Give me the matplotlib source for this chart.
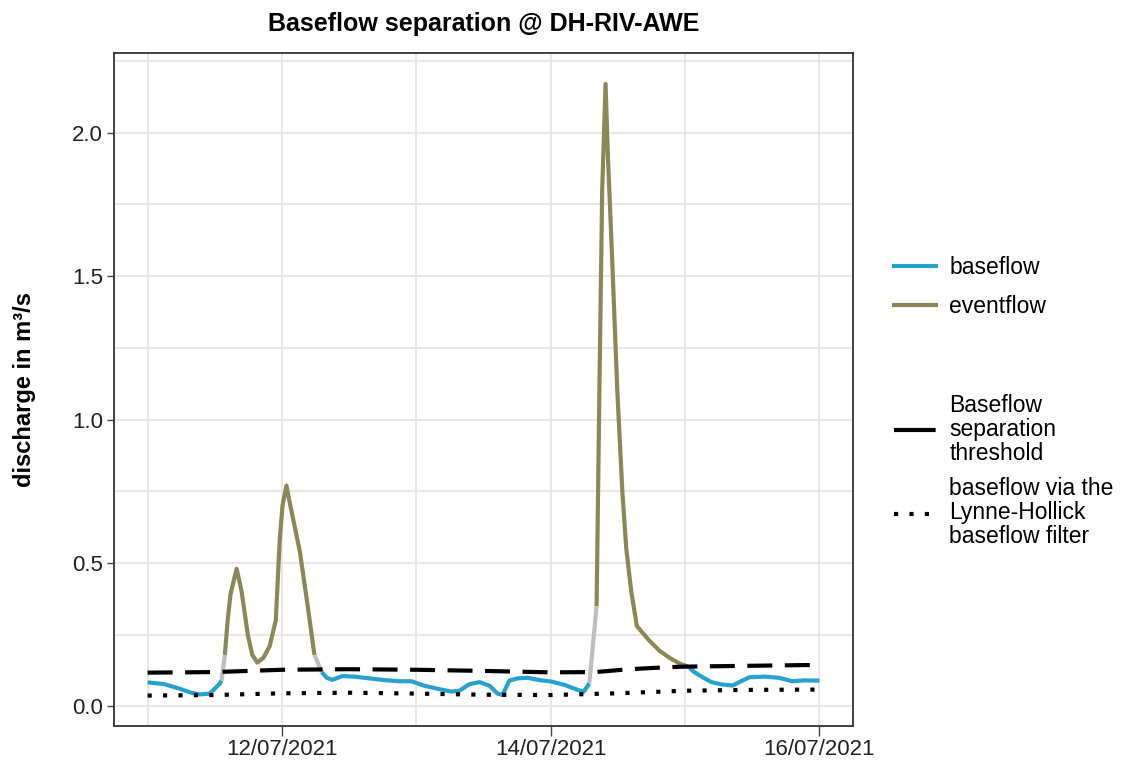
import numpy as np
import pandas as pd
import matplotlib
matplotlib.use("Agg")
from matplotlib import pyplot as plt
import matplotlib.dates as mdates
from matplotlib.lines import Line2D

# discharge series (hours after 11/07/2021 00:00), b = baseflow, e = eventflow
hours = [0, 3, 5.7, 7.8, 9.3, 11.1, 12.9, 13.2,
         13.8, 14.3, 14.8, 15.9, 16.8, 17.9, 18.7, 19.6, 20.7, 21.8, 22.9, 23.6,
         24.1, 24.8, 25.5, 27.2, 28.6, 29.8,
         31.1, 32.0, 33.0, 34.8, 37.0, 39.6, 42.3, 45.0, 47.1, 49.5, 52.2, 54.3,
         55.7, 57.5, 59.3, 61.1, 62.5, 63.4, 64.6, 66.1, 67.9, 70.0, 72.1, 74.5,
         76.8, 77.9, 78.9,
         80.2, 80.7, 81.2, 81.8, 82.2, 83.0, 83.9, 84.8, 85.5, 86.4, 87.4, 89.6,
         91.4, 93.2, 95.0, 96.4,
         96.8, 97.8, 99.3, 100.7, 102.5, 104.5, 105.7, 107.5, 110.2, 112.8, 115.2,
         117.3, 120]
flow = [0.084, 0.078, 0.062, 0.048, 0.042, 0.045, 0.080, 0.090,
        0.18, 0.30, 0.39, 0.48, 0.40, 0.25, 0.18, 0.153, 0.17, 0.21, 0.30, 0.58,
        0.70, 0.77, 0.70, 0.54, 0.35, 0.18,
        0.12, 0.10, 0.093, 0.106, 0.104, 0.098, 0.092, 0.088, 0.088, 0.072, 0.060,
        0.052, 0.055, 0.078, 0.085, 0.072, 0.045, 0.040, 0.090, 0.098, 0.100,
        0.092, 0.087, 0.075, 0.058, 0.052, 0.080,
        0.35, 1.10, 1.80, 2.17, 1.93, 1.55, 1.10, 0.75, 0.55, 0.40, 0.28, 0.23,
        0.195, 0.17, 0.15, 0.14,
        0.134, 0.118, 0.100, 0.085, 0.077, 0.073, 0.085, 0.102, 0.104, 0.100,
        0.088, 0.091, 0.090]
cls = (["b"] * 8 + ["e"] * 18 + ["b"] * 27 + ["e"] * 16 + ["b"] * 13)

# baseflow separation threshold
thr_hours = [0, 12, 24, 36, 48, 60, 72, 80, 86, 93, 96, 108, 120]
thr = [0.118, 0.120, 0.128, 0.130, 0.128, 0.124, 0.119, 0.120, 0.130, 0.137,
       0.139, 0.142, 0.145]

# Lyne-Hollick filter baseflow
lh_hours = [0, 12, 24, 36, 48, 60, 72, 84, 96, 108, 120]
lh = [0.038, 0.040, 0.046, 0.048, 0.045, 0.041, 0.040, 0.046, 0.055, 0.058, 0.059]

start = pd.Timestamp("2021-07-11 00:00")
t = start + pd.to_timedelta(hours, unit="h")
t_thr = start + pd.to_timedelta(thr_hours, unit="h")
t_lh = start + pd.to_timedelta(lh_hours, unit="h")

BLUE = "#27a2cf"
OLIVE = "#8a8857"
GREY = "#bebebe"
colors = {"b": BLUE, "e": OLIVE}

plt.rcParams["font.family"] = ["Liberation Sans", "DejaVu Sans"]

fig = plt.figure(figsize=(11.21, 7.67), dpi=100)
ax = fig.add_axes([114 / 1121, 1 - 726 / 767, (853 - 114) / 1121, (726 - 53) / 767])

lw = 3.0
# draw runs of the same class, grey connectors in between
i = 0
n = len(hours)
while i < n:
    j = i
    while j + 1 < n and cls[j + 1] == cls[i]:
        j += 1
    ax.plot(t[i:j + 1], flow[i:j + 1], color=colors[cls[i]], lw=lw,
            solid_capstyle="butt", solid_joinstyle="round", zorder=3)
    if j + 1 < n:
        ax.plot(t[j:j + 2], flow[j:j + 2], color=GREY, lw=lw,
                solid_capstyle="butt", zorder=2)
    i = j + 1

ax.plot(t_thr, thr, color="black", lw=3.0, dashes=(6, 3), dash_capstyle="butt", zorder=4)
ax.plot(t_lh, lh, color="black", lw=3.0, dashes=(1, 2.7), dash_capstyle="butt", zorder=4)

x0 = start - pd.Timedelta(hours=6)
x1 = start + pd.Timedelta(hours=126)
ax.set_xlim(x0, x1)
ax.set_ylim(-0.068, 2.278)

ax.xaxis.set_major_locator(mdates.DayLocator(bymonthday=[12, 14, 16]))
ax.xaxis.set_minor_locator(mdates.DayLocator(bymonthday=[11, 13, 15]))
ax.xaxis.set_major_formatter(mdates.DateFormatter("%d/%m/%Y"))
ax.set_yticks([0, 0.5, 1.0, 1.5, 2.0])
ax.set_yticklabels(["0.0", "0.5", "1.0", "1.5", "2.0"])
ax.set_yticks([0.25, 0.75, 1.25, 1.75, 2.25], minor=True)

ax.grid(True, which="both", color="#e3e3e3", lw=1.2, zorder=0)
ax.set_axisbelow(True)
ax.tick_params(axis="both", which="major", labelsize=16, color="#444444",
               width=1, labelcolor="#222222")
ax.tick_params(axis="x", which="major", length=7, pad=2.5)
ax.tick_params(axis="y", which="major", length=5, pad=3)
ax.tick_params(axis="both", which="minor", length=0)
for s in ax.spines.values():
    s.set_color("#333333")
    s.set_linewidth(1.3)

ax.set_ylabel("discharge in m³/s", fontsize=17, fontweight="bold", labelpad=26)
ax.set_title("Baseflow separation @ DH-RIV-AWE", fontsize=18, fontweight="bold", pad=16)

h1 = [Line2D([], [], color=BLUE, lw=lw), Line2D([], [], color=OLIVE, lw=lw)]
leg1 = fig.legend(h1, ["baseflow", "eventflow"], loc="center left",
                  bbox_to_anchor=(883 / 1121, 1 - 287 / 767), frameon=False,
                  fontsize=16.5, handlelength=1.8, handletextpad=0.6,
                  labelspacing=0.7, borderpad=0)
h2 = [Line2D([], [], color="black", lw=3.0, dashes=(10, 3)),
      Line2D([], [], color="black", lw=3.0, dashes=(1, 2.7))]
leg2 = fig.legend(h2, ["Baseflow\nseparation\nthreshold",
                       "baseflow via the\nLynne-Hollick\nbaseflow filter"],
                  loc="center left", bbox_to_anchor=(883 / 1121, 1 - 471 / 767),
                  frameon=False, fontsize=16.5, handlelength=1.8, handletextpad=0.6,
                  labelspacing=0.55, borderpad=0)
for txt in leg2.get_texts():
    txt.set_linespacing(1.05)

fig.savefig("out.png", dpi=100)
